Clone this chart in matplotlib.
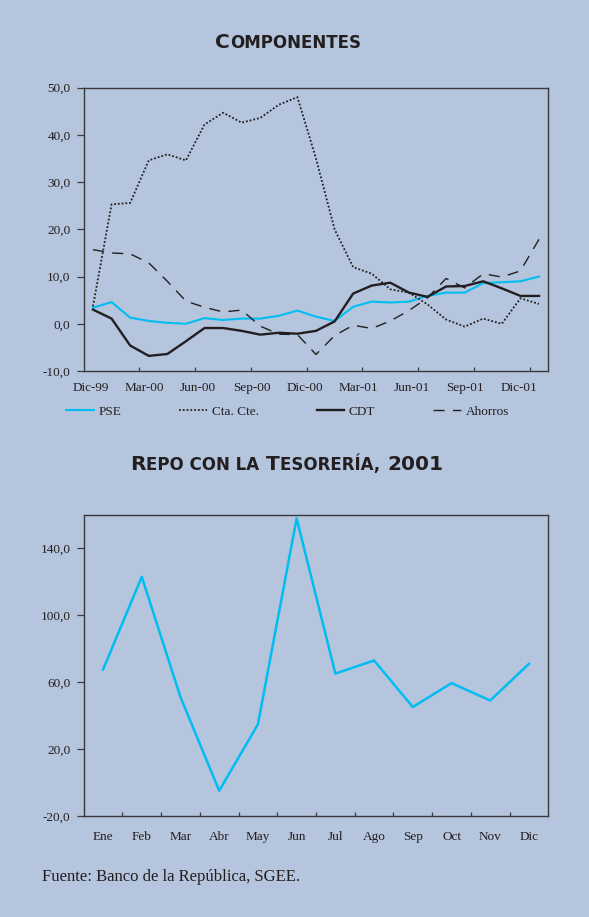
import numpy as np
import matplotlib
matplotlib.use("Agg")
import matplotlib.pyplot as plt
from matplotlib.offsetbox import TextArea, HPacker, AnnotationBbox

# ---------------- data ----------------
top_labels = ["Dic-99", "Mar-00", "Jun-00", "Sep-00", "Dic-00",
              "Mar-01", "Jun-01", "Sep-01", "Dic-01"]
pse = [3.4, 4.6, 1.3, 0.6, 0.2, 0.0, 1.2, 0.8, 1.1, 1.1, 1.7, 2.8, 1.5,
       0.6, 3.6, 4.7, 4.5, 4.7, 5.9, 6.6, 6.6, 8.6, 8.8, 9.0, 10.0]
cta_cte = [3.7, 25.3, 25.6, 34.6, 35.9, 34.6, 42.2, 44.7, 42.6, 43.6, 46.4,
           48.0, 35.0, 20.0, 12.0, 10.6, 7.3, 6.6, 4.1, 0.9, -0.6, 1.1,
           0.0, 5.4, 4.2]
cdt = [3.0, 1.1, -4.6, -6.8, -6.4, -3.7, -0.9, -0.9, -1.5, -2.3, -1.9, -2.1,
       -1.5, 0.5, 6.4, 8.1, 8.7, 6.6, 5.7, 7.9, 8.0, 9.0, 7.5, 5.9, 5.9]
ahorros = [15.7, 15.0, 14.8, 12.9, 9.0, 4.8, 3.5, 2.5, 2.9, -0.5, -2.2, -2.3,
           -6.5, -2.5, -0.3, -1.0, 0.6, 2.8, 5.5, 9.6, 7.6, 10.6, 9.9, 11.2,
           17.9]
top_yticks = [-10, 0, 10, 20, 30, 40, 50]

bot_labels = ["Ene", "Feb", "Mar", "Abr", "May", "Jun",
              "Jul", "Ago", "Sep", "Oct", "Nov", "Dic"]
repo = [67.5, 122.9, 51.0, -4.9, 34.8, 157.8, 65.1, 72.9, 45.1, 59.4, 49.0, 70.9]
bot_yticks = [-20, 20, 60, 100, 140]

# ---------------- style ----------------
BG = "#b5c5dd"
CYAN = "#00bdf2"
DARK = "#231f20"
SERIF = ["Liberation Serif", "DejaVu Serif"]
W, H = 589, 917

fig = plt.figure(figsize=(W / 100, H / 100), dpi=100, facecolor=BG)


def fmt(v):
    return f"{v:.1f}".replace(".", ",")


def style_axes(ax):
    ax.set_facecolor(BG)
    for s in ax.spines.values():
        s.set_color("#3a3a3a")
        s.set_linewidth(1.0)
    ax.tick_params(axis="y", direction="out", length=5, width=0.9,
                   color="#3a3a3a", pad=4.5, labelsize=9.5, labelcolor=DARK)


def smallcaps(text, x, y, big=14.5, small=12):
    runs = []
    for ch in text:
        is_big = ch.isupper() or ch.isdigit()
        if runs and runs[-1][1] == is_big:
            runs[-1][0] += ch
        else:
            runs.append([ch, is_big])
    boxes = []
    for s, is_big in runs:
        boxes.append(TextArea(s.upper(), textprops=dict(
            size=big if is_big else small, weight="bold", color=DARK,
            family="DejaVu Sans")))
    pack = HPacker(children=boxes, align="baseline", pad=0, sep=0.6)
    ab = AnnotationBbox(pack, (x, y), xycoords="figure fraction",
                        frameon=False, box_alignment=(0.5, 0.5), pad=0)
    fig.add_artist(ab)


# ---------------- top chart ----------------
ax1 = fig.add_axes([83.7 / W, 1 - 371 / H, (548.3 - 83.7) / W, (371 - 87.7) / H])
style_axes(ax1)
x = np.arange(len(pse))
ax1.plot(x, pse, color=CYAN, lw=1.5, label="PSE")
ax1.plot(x, cta_cte, color=DARK, lw=1.3, linestyle=(0, (1, 1.1)), label="Cta. Cte.")
ax1.plot(x, cdt, color=DARK, lw=1.7, label="CDT")
ax1.plot(x, ahorros, color=DARK, lw=1.0, linestyle=(0, (8, 6)), label="Ahorros")
ax1.set_xlim(-0.5, len(pse) - 0.5)
ax1.set_ylim(-10, 50)
ax1.set_yticks(top_yticks, labels=[fmt(v) for v in top_yticks])
for lab in ax1.get_yticklabels():
    lab.set_family(SERIF)
ax1.set_xticks(np.arange(2.5, len(pse) - 1, 3), labels=[])
ax1.set_xticks(np.linspace(-0.1, 22.9, len(top_labels)), labels=top_labels, minor=True)
ax1.tick_params(axis="x", which="major", direction="in", length=3, width=0.9,
                color="#3a3a3a")
ax1.tick_params(axis="x", which="minor", length=0, pad=8, labelsize=9.5,
                labelcolor=DARK)
for lab in ax1.get_xticklabels(minor=True):
    lab.set_family(SERIF)

leg = fig.legend(loc="center left", bbox_to_anchor=(66 / W, 1 - 411.5 / H),
                 ncol=4, frameon=False, borderpad=0, borderaxespad=0,
                 handlelength=2.1, handletextpad=0.35, columnspacing=4.4,
                 prop={"family": SERIF, "size": 9.5})
for t in leg.get_texts():
    t.set_color(DARK)

# ---------------- bottom chart ----------------
ax2 = fig.add_axes([83.7 / W, 1 - 816 / H, (548.3 - 83.7) / W, (816 - 514.7) / H])
style_axes(ax2)
xb = np.arange(len(repo))
ax2.plot(xb, repo, color=CYAN, lw=1.8)
ax2.set_xlim(-0.5, len(repo) - 0.5)
ax2.set_ylim(-20, 160)
ax2.set_yticks(bot_yticks, labels=[fmt(v) for v in bot_yticks])
for lab in ax2.get_yticklabels():
    lab.set_family(SERIF)
ax2.set_xticks(np.arange(0.5, len(repo) - 1, 1), labels=[])
ax2.set_xticks(xb, labels=bot_labels, minor=True)
ax2.tick_params(axis="x", which="major", direction="in", length=3, width=0.9,
                color="#3a3a3a")
ax2.tick_params(axis="x", which="minor", length=0, pad=10.5, labelsize=9.5,
                labelcolor=DARK)
for lab in ax2.get_xticklabels(minor=True):
    lab.set_family(SERIF)

# ---------------- titles & source ----------------
smallcaps("Componentes", 288 / W, 1 - 43 / H)
smallcaps("Repo con la Tesorería, 2001", 286.5 / W, 1 - 464 / H)

fig.text(41.7 / W, 1 - 877 / H, "Fuente: Banco de la República, SGEE.",
         family=SERIF, size=12, color=DARK, ha="left", va="center")

fig.savefig("out.png", dpi=100, facecolor=BG)
